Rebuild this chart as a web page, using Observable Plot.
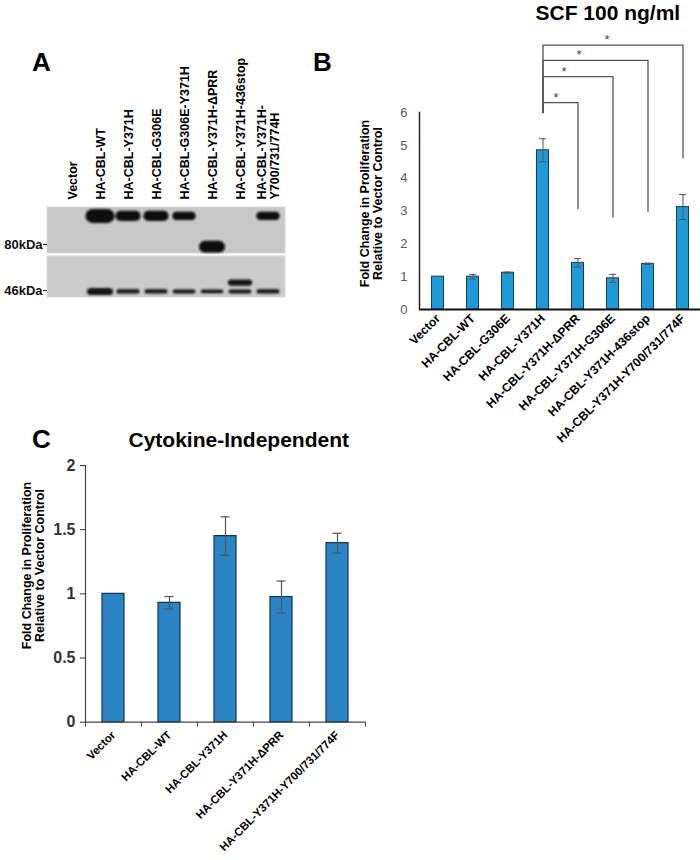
<!DOCTYPE html>
<html>
<head>
<meta charset="utf-8">
<script src="https://cdn.jsdelivr.net/npm/d3@7"></script>
<script src="https://cdn.jsdelivr.net/npm/@observablehq/plot@0.6"></script>
<style>
  body { margin: 0; background: #fff; }
  #page { position: relative; width: 700px; height: 860px; overflow: hidden; font-family: "Liberation Sans", Arial, sans-serif; color: #000; }
  .abs { position: absolute; }
  .panel { font-weight: bold; font-size: 26px; line-height: 1; }
  .title { font-weight: bold; white-space: nowrap; line-height: 1; }
  .ylab { font-weight: bold; font-size: 12.5px; line-height: 12.5px; text-align: center; white-space: nowrap; transform: rotate(-90deg); transform-origin: center center; }
  svg { overflow: visible; }
</style>
</head>
<body>
<div id="page">
  <div class="abs panel" style="left:32px; top:49px;">A</div>
  <div class="abs panel" style="left:313px; top:49px;">B</div>
  <div class="abs panel" style="left:32px; top:426px;">C</div>
  <div class="abs title" id="titleB" style="font-size:21px;">SCF 100 ng/ml</div>
  <div class="abs title" id="titleC" style="font-size:21px;">Cytokine-Independent</div>
  <div class="abs ylab" id="ylabB">Fold Change in Proliferation<br>Relative to Vector Control</div>
  <div class="abs ylab" id="ylabC">Fold Change in Proliferation<br>Relative to Vector Control</div>
  <div class="abs" id="plotA" style="left:0; top:0;"></div>
  <div class="abs" id="plotB" style="left:340px; top:0;"></div>
  <div class="abs" id="plotC" style="left:0; top:440px;"></div>
</div>
<script>
// ---------- Panel A: western blot ----------
const blotLanes = [
  "Vector", "HA-CBL-WT", "HA-CBL-Y371H", "HA-CBL-G306E", "HA-CBL-G306E-Y371H",
  "HA-CBL-Y371H-ΔPRR", "HA-CBL-Y371H-436stop", "HA-CBL-Y371H-\nY700/731/774H"
];
const markerKDa = [46, 80];
const stripTopKDa = [125, 69.3];
const stripBottomKDa = [71.8, 42.3];
const cblKDa = 113;        // full-length HA-CBL band
const cblSignal = [0, 1.0, 0.72, 0.72, 0.58, 0, 0, 0.58];
const prrKDa = 78;         // ΔPRR band
const prrSignal = [0, 0, 0, 0, 0, 0.85, 0, 0];
const truncKDa = 50.6;     // 436stop band
const truncSignal = [0, 0, 0, 0, 0, 0, 0.45, 0];
const loadKDa = 45.5;      // 46 kDa band
const loadSignal = [0, 0.5, 0.3, 0.3, 0.28, 0.26, 0.28, 0.3];

// ---------- Panel B: SCF 100 ng/ml ----------
const catsB = [
  "Vector", "HA-CBL-WT", "HA-CBL-G306E", "HA-CBL-Y371H", "HA-CBL-Y371H-ΔPRR",
  "HA-CBL-Y371H-G306E", "HA-CBL-Y371H-436stop", "HA-CBL-Y371H-Y700/731/774F"
];
const meanB = [1.0, 1.0, 1.12, 4.85, 1.42, 0.95, 1.39, 3.12];
const errB  = [0, 0.07, 0.02, 0.35, 0.13, 0.12, 0.02, 0.38];
const ticksB = [0, 1, 2, 3, 4, 5, 6];
const sigFrom = "HA-CBL-Y371H";
const sigBase = 6.0;
const sigTargets = ["HA-CBL-Y371H-ΔPRR", "HA-CBL-Y371H-G306E", "HA-CBL-Y371H-436stop", "HA-CBL-Y371H-Y700/731/774F"];
const sigTop = [6.30, 7.09, 7.59, 8.05];
const sigEnd = [3.07, 2.81, 2.99, 4.62];

// ---------- Panel C: Cytokine-Independent ----------
const catsC = ["Vector", "HA-CBL-WT", "HA-CBL-Y371H", "HA-CBL-Y371H-ΔPRR", "HA-CBL-Y371H-Y700/731/774F"];
const meanC = [1.0, 0.93, 1.45, 0.975, 1.395];
const errC  = [0, 0.049, 0.15, 0.125, 0.077];
const ticksC = [0, 0.5, 1, 1.5, 2];

const font = "Liberation Sans, Arial, sans-serif";

// ---- A ----
const strips = stripTopKDa.map((t, i) => ({top: t, bottom: stripBottomKDa[i]}));
const bandRows = (kda, sig) => blotLanes.map((lane, i) => ({lane, kDa: kda, s: sig[i]})).filter(d => d.s > 0);
const plotA = Plot.plot({
  width: 300, height: 310,
  marginLeft: 47, marginRight: 15, marginTop: 207, marginBottom: 13,
  x: {type: "band", domain: blotLanes, paddingInner: 0, paddingOuter: 0.15, align: 0.8, label: null},
  y: {type: "log", domain: [42.3, 125], label: null},
  style: {fontFamily: font, background: "transparent", overflow: "visible"},
  marks: [
    Plot.rect([strips[0]], {y1: "top", y2: "bottom", fill: "#c8c8c8", stroke: "#dadada", strokeWidth: 1}),
    Plot.rect([strips[1]], {y1: "top", y2: "bottom", fill: "#cbcbcb", stroke: "#dadada", strokeWidth: 1}),
    Plot.tickY(bandRows(cblKDa, cblSignal), {x: "lane", y: "kDa", stroke: "#0a0a0a", strokeWidth: d => 14 * d.s, strokeLinecap: "round", insetLeft: 6.5, insetRight: 6.5}),
    Plot.tickY(bandRows(prrKDa, prrSignal), {x: "lane", y: "kDa", stroke: "#0a0a0a", strokeWidth: d => 14 * d.s, strokeLinecap: "round", insetLeft: 7, insetRight: 7}),
    Plot.tickY(bandRows(truncKDa, truncSignal), {x: "lane", y: "kDa", stroke: "#151515", strokeWidth: d => 14 * d.s, strokeLinecap: "round", insetLeft: 5, insetRight: 5}),
    Plot.tickY(bandRows(loadKDa, loadSignal), {x: "lane", y: "kDa", stroke: "#151515", strokeWidth: d => 14 * d.s, strokeLinecap: "round", insetLeft: 4.5, insetRight: 4.5}),
    Plot.axisX({anchor: "top", tickRotate: -90, tickSize: 0, tickPadding: 8, fontWeight: "bold", fontSize: 12.5, label: null}),
    Plot.axisY({ticks: markerKDa, tickFormat: d => `${d}kDa`, tickSize: 4, tickPadding: 1, fontWeight: "bold", fontSize: 13, label: null, color: "#111"})
  ]
});
{
  const ns = "http://www.w3.org/2000/svg";
  const defs = document.createElementNS(ns, "defs");
  const filt = document.createElementNS(ns, "filter");
  filt.setAttribute("id", "bandBlur");
  filt.setAttribute("filterUnits", "userSpaceOnUse");
  filt.setAttribute("x", "0"); filt.setAttribute("y", "0");
  filt.setAttribute("width", "300"); filt.setAttribute("height", "310");
  const gb = document.createElementNS(ns, "feGaussianBlur");
  gb.setAttribute("stdDeviation", "1.1 0.9");
  filt.appendChild(gb); defs.appendChild(filt);
  plotA.insertBefore(defs, plotA.firstChild);
  plotA.querySelectorAll("g").forEach(g => {
    if (g.getAttribute("aria-label") === "tick") g.setAttribute("filter", "url(#bandBlur)");
  });
}
document.getElementById("plotA").appendChild(plotA);

// ---- B ----
const dataB = catsB.map((name, i) => ({name, v: meanB[i], e: errB[i]}));
const errRowsB = dataB.filter(d => d.e > 0);
const bracketRows = sigTargets.flatMap((t, i) => [
  {k: i, x: sigFrom, y: sigBase},
  {k: i, x: sigFrom, y: sigTop[i]},
  {k: i, x: t, y: sigTop[i]},
  {k: i, x: t, y: sigEnd[i]}
]);
const starDx = [13, 21, 36, 64];
const plotB = Plot.plot({
  width: 360, height: 460,
  marginLeft: 79, marginRight: 0, marginTop: 112, marginBottom: 151,
  x: {domain: catsB, padding: 0, label: null},
  y: {domain: [0, 6], label: null},
  style: {fontFamily: font, background: "transparent", overflow: "visible"},
  marks: [
    Plot.barY(dataB, {x: "name", y: "v", fill: "#1e9ad8", stroke: "#1b3a55", strokeWidth: 1, insetLeft: 11.5, insetRight: 11.5}),
    Plot.ruleX(errRowsB, {x: "name", y1: d => d.v - d.e, y2: d => d.v + d.e, stroke: "#555", strokeWidth: 1}),
    Plot.tickY(errRowsB, {x: "name", y: d => d.v + d.e, stroke: "#555", strokeWidth: 1, insetLeft: 14, insetRight: 14}),
    Plot.tickY(errRowsB, {x: "name", y: d => d.v - d.e, stroke: "#555", strokeWidth: 1, insetLeft: 14, insetRight: 14}),
    Plot.line(bracketRows, {x: "x", y: "y", z: "k", stroke: "#555", strokeWidth: 1.3}),
    ...sigTargets.map((t, i) => Plot.text([i], {x: () => sigFrom, y: () => sigTop[i], text: () => "*", dx: starDx[i], dy: -5, fontSize: 13, fill: "#444"})),
    Plot.ruleY([0], {stroke: "#111", strokeWidth: 2}),
    Plot.frame({anchor: "left", stroke: "#222", strokeWidth: 1.5}),
    Plot.axisY({ticks: ticksB, tickFormat: d => String(d), tickSize: 0, tickPadding: 12, fontSize: 13, color: "#595959", label: null}),
    Plot.axisX({tickRotate: -45, tickSize: 0, tickPadding: 7, fontWeight: "bold", fontSize: 12.2, label: null})
  ]
});
document.getElementById("plotB").appendChild(plotB);

// ---- C ----
const dataC = catsC.map((name, i) => ({name, v: meanC[i], e: errC[i]}));
const errRowsC = dataC.filter(d => d.e > 0);
const plotC = Plot.plot({
  width: 400, height: 420,
  marginLeft: 85, marginRight: 35, marginTop: 25, marginBottom: 138.3,
  x: {domain: catsC, padding: 0, label: null},
  y: {domain: [0, 2], label: null},
  style: {fontFamily: font, background: "transparent", overflow: "visible"},
  marks: [
    Plot.barY(dataC, {x: "name", y: "v", fill: "#2a84c6", stroke: "#14314a", strokeWidth: 1.2, insetLeft: 17, insetRight: 17}),
    Plot.ruleX(errRowsC, {x: "name", y1: d => d.v - d.e, y2: d => d.v + d.e, stroke: "#555", strokeWidth: 1.2}),
    Plot.tickY(errRowsC, {x: "name", y: d => d.v + d.e, stroke: "#555", strokeWidth: 1.2, insetLeft: 23.5, insetRight: 23.5}),
    Plot.tickY(errRowsC, {x: "name", y: d => d.v - d.e, stroke: "#555", strokeWidth: 1.2, insetLeft: 23.5, insetRight: 23.5}),
    Plot.ruleY([0], {stroke: "#444", strokeWidth: 1.2}),
    Plot.frame({anchor: "left", stroke: "#444", strokeWidth: 1.2}),
    Plot.axisY({ticks: ticksC, tickFormat: d => String(d), tickSize: 5, tickPadding: 5, fontSize: 16, fontWeight: "bold", color: "#333", label: null}),
    Plot.axisX({tickSize: 5, tickFormat: () => "", dx: -28, color: "#444", label: null}),
    Plot.axisX([catsC[catsC.length - 1]], {tickSize: 5, tickFormat: () => "", dx: 28, color: "#444", label: null}),
    Plot.axisX({tickRotate: -45, tickSize: 0, tickPadding: 11, fontWeight: "bold", fontSize: 11.4, label: null})
  ]
});
document.getElementById("plotC").appendChild(plotC);

// ---- place titles & y labels ----
function centerAt(id, cx, cy) {
  const el = document.getElementById(id);
  const w = el.offsetWidth, h = el.offsetHeight;
  el.style.left = (cx - w / 2) + "px";
  el.style.top = (cy - h / 2) + "px";
}
centerAt("titleB", 608, 12);
centerAt("titleC", 239, 439);
centerAt("ylabB", 371, 203);
centerAt("ylabC", 33, 565);
</script>
</body>
</html>
